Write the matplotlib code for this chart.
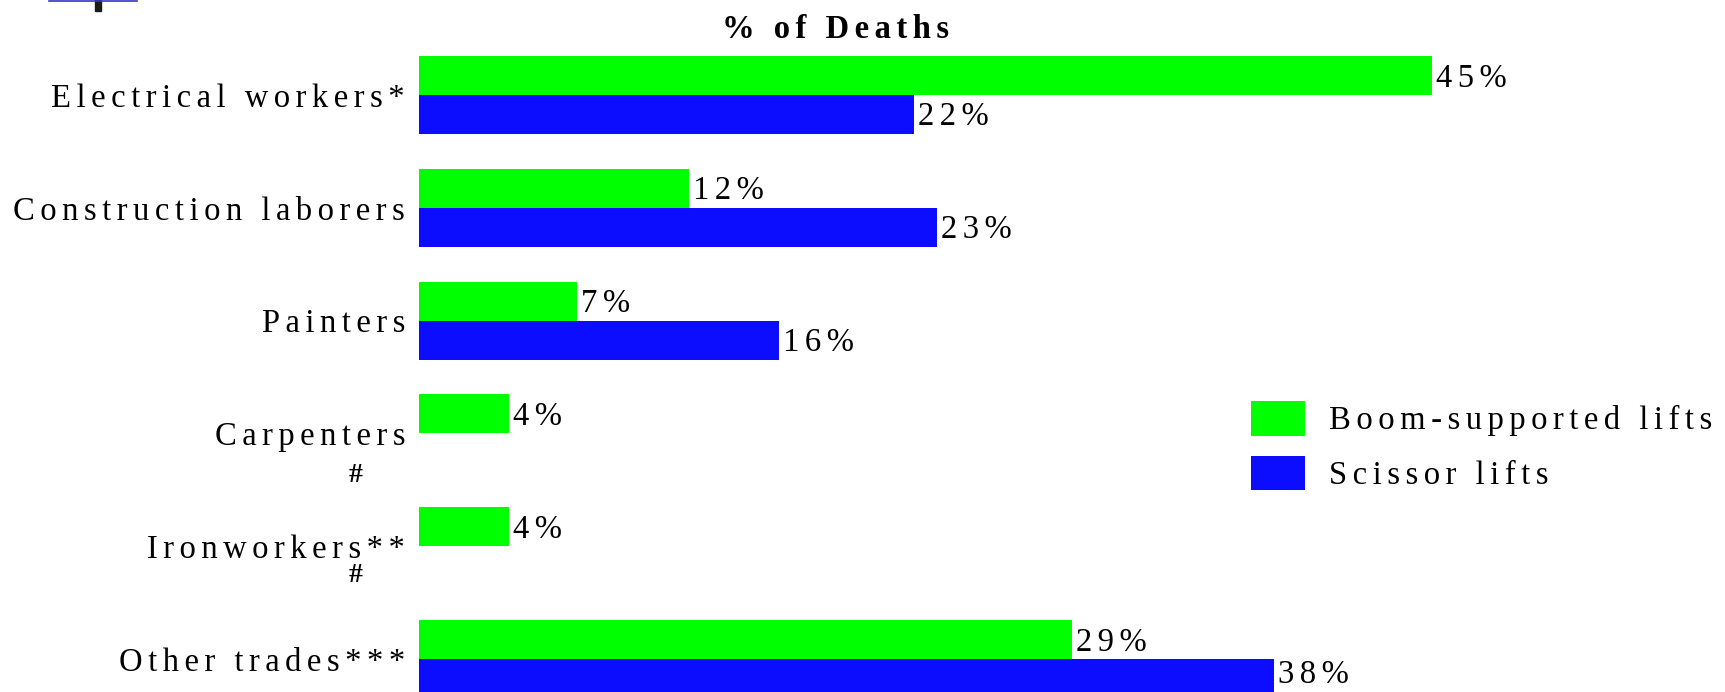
import matplotlib
matplotlib.use("Agg")
import matplotlib.pyplot as plt
from matplotlib.patches import Rectangle
from matplotlib.lines import Line2D

categories = ["Electrical workers*", "Construction laborers", "Painters",
              "Carpenters", "Ironworkers**", "Other trades***"]
boom = [45, 12, 7, 4, 4, 29]
scissor = [22, 23, 16, None, None, 38]
series_names = ["Boom-supported lifts", "Scissor lifts"]
title = "% of Deaths"

GREEN = "#00ff00"
BLUE = "#0c0cff"
SP = "\u200a\u200a"


def spaced(s):
    # letter-spaced look of the original
    return SP.join(s)


plt.rcParams["font.family"] = ["Liberation Serif", "DejaVu Serif"]
W, H = 1725, 692
fig = plt.figure(figsize=(W / 100, H / 100), dpi=100)

# axes from the bar baseline to the right edge; 22.5 px per %, 112.8 px per row
x0 = 419
ax = fig.add_axes([x0 / W, 0, (W - x0) / W, 1])
row = 112.8
ax.set_xlim(0, (W - x0) / 22.5)
ax.set_ylim((H - 95) / row, -95 / row)

h = 0.345
ypos = list(range(len(categories)))
fs = 23.5
last = ypos[-1]

for i in ypos:
    ax.barh(i - h / 2, boom[i], height=h, color=GREEN, label=series_names[0] if i == 0 else None)
    ax.annotate(spaced(f"{boom[i]}%"), xy=(boom[i], i - h / 2), xytext=(3, -2),
                textcoords="offset points", va="center", ha="left", fontsize=fs)
    if scissor[i] is not None:
        ax.barh(i + h / 2, scissor[i], height=h, color=BLUE, label=series_names[1] if i == 0 else None)
        # bottom bar runs off the page, keep its label inside
        dy = 3 if i == last else -2
        ax.annotate(spaced(f"{scissor[i]}%"), xy=(scissor[i], i + h / 2), xytext=(3, dy),
                    textcoords="offset points", va="center", ha="left", fontsize=fs)

ax.set_yticks(ypos)
ax.set_yticklabels([spaced(c) for c in categories], fontsize=fs)
ax.tick_params(axis="y", length=0, pad=10)
ax.set_xticks([])
for s in ax.spines.values():
    s.set_visible(False)

# footnote marks under two labels
ax.annotate("#", xy=(0, 3), xytext=(-46, -30), textcoords="offset points",
            ha="center", va="center", fontsize=20, fontweight="bold")
ax.annotate("#", xy=(0, 4), xytext=(-46, -21), textcoords="offset points",
            ha="center", va="center", fontsize=20, fontweight="bold")

fig.text(836 / W, 1 - 29 / H, spaced(title), ha="center", va="center",
         fontsize=fs, fontweight="bold")

leg = fig.legend(loc="upper left", bbox_to_anchor=(1251 / W, 1 - 401 / H),
                 frameon=False, fontsize=fs, borderpad=0, borderaxespad=0,
                 handlelength=1.64, handleheight=1.25, handletextpad=0.76,
                 labelspacing=0.6)
for t in leg.get_texts():
    t.set_text(spaced(t.get_text()))

# bits of a cut-off header graphic in the top-left corner
fig.add_artist(Line2D([49 / W, 137 / W], [1 - 0.5 / H, 1 - 0.5 / H], color="#3535c8", lw=1.2))
fig.add_artist(Rectangle((95 / W, 1 - 11 / H), 6 / W, 11 / H, color="#1a1a1a",
                         transform=fig.transFigure))

fig.savefig("out.png", dpi=100)
